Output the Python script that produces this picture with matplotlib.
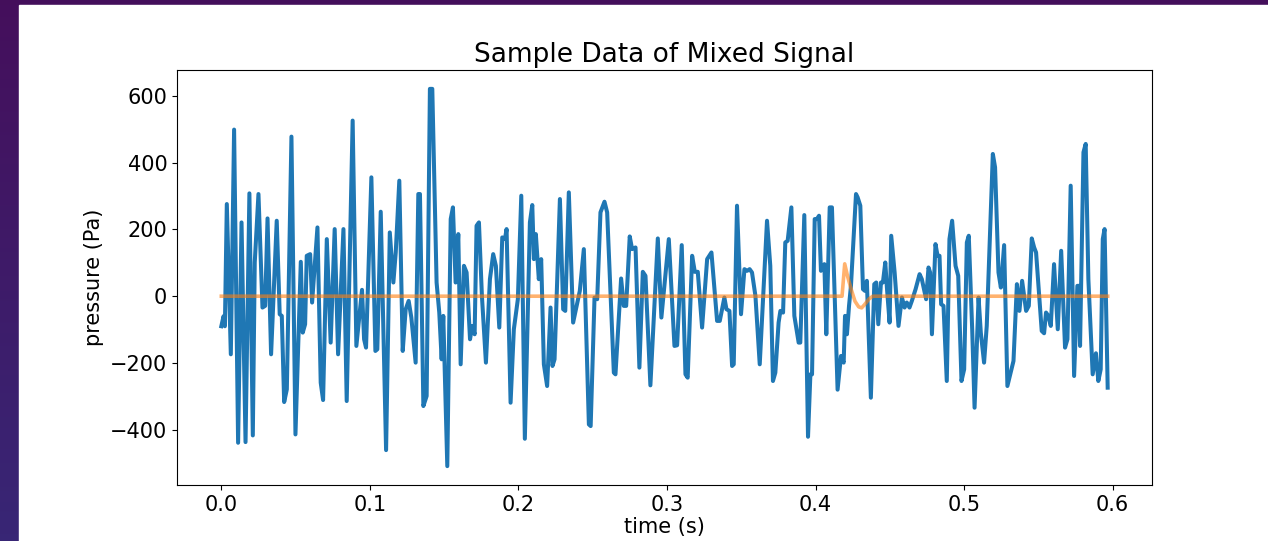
import numpy as np
import matplotlib
matplotlib.use('Agg')
from matplotlib import pyplot as plt
from matplotlib.patches import Rectangle

# mixed signal (time in s, pressure in Pa)
time_s = [0.0000, 0.0015, 0.0024, 0.0037, 0.0064, 0.0086, 0.0113, 0.0136, 0.0163, 0.0189,
          0.0212, 0.0225, 0.0250, 0.0277, 0.0295, 0.0311, 0.0335, 0.0373, 0.0393, 0.0407,
          0.0423, 0.0441, 0.0472, 0.0499, 0.0535, 0.0548, 0.0564, 0.0575, 0.0598, 0.0611,
          0.0647, 0.0669, 0.0685, 0.0710, 0.0736, 0.0763, 0.0786,
          0.0822, 0.0844, 0.0884, 0.0909, 0.0927, 0.0947, 0.0961, 0.0974, 0.1010, 0.1037,
          0.1050, 0.1073, 0.1109, 0.1134, 0.1158, 0.1174, 0.1198, 0.1221, 0.1241, 0.1261,
          0.1279, 0.1308, 0.1326, 0.1337, 0.1360, 0.1382, 0.1404, 0.1420, 0.1449, 0.1467,
          0.1483, 0.1494, 0.1521, 0.1544, 0.1559, 0.1577, 0.1595, 0.1611, 0.1633, 0.1651,
          0.1674,
          0.1689, 0.1705, 0.1718, 0.1734, 0.1754, 0.1781, 0.1808, 0.1830, 0.1848, 0.1871,
          0.1891, 0.1909, 0.1920, 0.1947, 0.1969, 0.1996, 0.2019, 0.2043, 0.2077, 0.2093,
          0.2104, 0.2117, 0.2137, 0.2153, 0.2171, 0.2193, 0.2216, 0.2229, 0.2243, 0.2279,
          0.2301, 0.2315, 0.2339, 0.2368, 0.2413, 0.2440, 0.2474, 0.2486, 0.2512, 0.2530,
          0.2552,
          0.2579, 0.2597, 0.2642, 0.2653, 0.2691, 0.2709, 0.2725, 0.2749, 0.2765, 0.2788,
          0.2814, 0.2837, 0.2855, 0.2888, 0.2938, 0.2962, 0.3012, 0.3050, 0.3068, 0.3099,
          0.3124, 0.3139, 0.3169, 0.3187, 0.3207, 0.3236, 0.3270, 0.3299, 0.3337, 0.3355,
          0.3386, 0.3400, 0.3420, 0.3438, 0.3449,
          0.3471, 0.3498, 0.3521, 0.3539, 0.3556, 0.3572, 0.3595, 0.3624, 0.3673, 0.3695,
          0.3713, 0.3729, 0.3751, 0.3763, 0.3781, 0.3796, 0.3812, 0.3837, 0.3857, 0.3886,
          0.3897, 0.3924, 0.3949, 0.3965, 0.3976, 0.3994, 0.4009, 0.4023, 0.4036, 0.4059,
          0.4072, 0.4095, 0.4110, 0.4148, 0.4171, 0.4189, 0.4198, 0.4211, 0.4225, 0.4238,
          0.4272, 0.4283,
          0.4301, 0.4319, 0.4332, 0.4345, 0.4372, 0.4395, 0.4408, 0.4422, 0.4440, 0.4453,
          0.4469, 0.4480, 0.4498, 0.4509, 0.4532, 0.4558, 0.4581, 0.4599, 0.4614, 0.4632,
          0.4648, 0.4673, 0.4700, 0.4715, 0.4744, 0.4760, 0.4771, 0.4783, 0.4807, 0.4821,
          0.4834, 0.4845, 0.4861, 0.4883, 0.4901, 0.4919, 0.4942, 0.4960, 0.4982, 0.5000,
          0.5018, 0.5031, 0.5054, 0.5070, 0.5097, 0.5112, 0.5134, 0.5152,
          0.5193, 0.5208, 0.5231, 0.5247, 0.5269, 0.5291, 0.5332, 0.5355, 0.5372, 0.5390,
          0.5417, 0.5435, 0.5455, 0.5471, 0.5484, 0.5522, 0.5538, 0.5551, 0.5567, 0.5583,
          0.5605, 0.5630, 0.5653, 0.5679, 0.5695, 0.5717, 0.5740, 0.5762, 0.5773, 0.5780,
          0.5803, 0.5818, 0.5836, 0.5865, 0.5887, 0.5903, 0.5919, 0.5933, 0.5945, 0.5966]

pressure_pa = [-90, -60, -90, 276, -174, 499, -439, 221, -437, 308,
               -417, 101, 306, -34, -29, 233, -174, 226, -54, -59,
               -317, -279, 478, -414, 103, -109, -84, 121, 126, -19,
               206, -259, -311, 171, -139, 201, -174,
               201, -314, 526, -149, -69, 19, -129, -154, 356, -164,
               -159, 253, -461, 191, 41, 131, 346, -164, -39, -14,
               -64, -199, 306, 306, -329, -299, 621, 621, 41, -49,
               -189, -59, -509, 231, 266, 41, 186, -204, 91, 71,
               -129,
               -89, -114, 211, 221, 1, -199, 51, 126, 91, -94,
               176, 171, 201, -319, -99, -9, 301, -427, 221, 273,
               111, 186, 51, 111, -204, -269, -34, -209, -189, 291,
               -39, -44, 311, -79, 16, 141, -384, -389, -4, -9,
               251,
               283, 251, -229, -234, 53, -29, -29, 179, 141, 146,
               -214, 73, 61, -267, 173, -64, 171, -149, -147, 153,
               -234, -244, 121, 73, 73, -94, 111, 131, -74, -74,
               -4, -39, -44, -209, -204,
               271, -54, 81, 76, 81, 71, 1, -204, 226, 91,
               -254, -229, -79, -44, -49, 161, 166, 266, -59, -139,
               -139, 243, -421, -234, -234, 231, 231, 241, 76, 96,
               -114, 266, 266, -280, -179, -199, -59, -114, -29, 31,
               306, 296,
               271, 21, 16, 46, -304, 36, 41, -84, 41, 41,
               101, 26, -79, 181, 71, -89, -4, -34, -19, -34,
               -14, 21, 66, 51, -9, 86, 71, -114, 156, 121,
               121, -24, -29, -254, 171, 226, 91, 61, -254, -219,
               161, 181, -99, -334, -4, -109, -199, -89,
               426, 386, 71, 26, 153, -269, -194, 36, -44, 46,
               -44, -29, 173, 146, 131, -104, -111, -49, -59, -89,
               96, -99, 136, -154, -129, 331, -239, 31, 31, -149,
               431, 456, 51, -234, -171, -254, -219, 171, 201, -274]

# isolated pulse (orange)
pulse_time = [0.0000, 0.4178, 0.4196, 0.4215, 0.4240, 0.4265, 0.4290, 0.4310, 0.4330, 0.4360, 0.4385, 0.5966]
pulse_pa = [0, 0, 97, 60, 20, -15, -32, -35, -25, -8, 0, 0]

fig = plt.figure(figsize=(12.68, 5.41), dpi=100)

# slide background: purple gradient with a white panel
bg = fig.add_axes([0, 0, 1, 1], zorder=-10)
top_c = np.array([0.27, 0.06, 0.36])
bot_c = np.array([0.22, 0.15, 0.46])
grad = np.linspace(0, 1, 256)[:, None, None]
img = top_c * (1 - grad) + bot_c * grad
bg.imshow(np.repeat(img, 2, axis=1), aspect='auto', extent=[0, 1, 0, 1])
bg.add_patch(Rectangle((19 / 1268, 0), 1, 1 - 5 / 541, color='white'))
bg.set_xlim(0, 1)
bg.set_ylim(0, 1)
bg.axis('off')

ax = fig.add_axes([177 / 1268, 1 - 485 / 541, (1152 - 177) / 1268, (485 - 70) / 541])
ax.plot(time_s, pressure_pa, color='#1f77b4', linewidth=2.9)
ax.plot(pulse_time, pulse_pa, color='#ff7f0e', linewidth=2.6, alpha=0.6)

ax.set_title('Sample Data of Mixed Signal', fontsize=19)
ax.set_xlabel('time (s)', fontsize=15, labelpad=2)
ax.set_ylabel('pressure (Pa)', fontsize=15)
ax.tick_params(labelsize=15)
ax.set_yticks([-400, -200, 0, 200, 400, 600])

fig.savefig('out.png', dpi=100)
